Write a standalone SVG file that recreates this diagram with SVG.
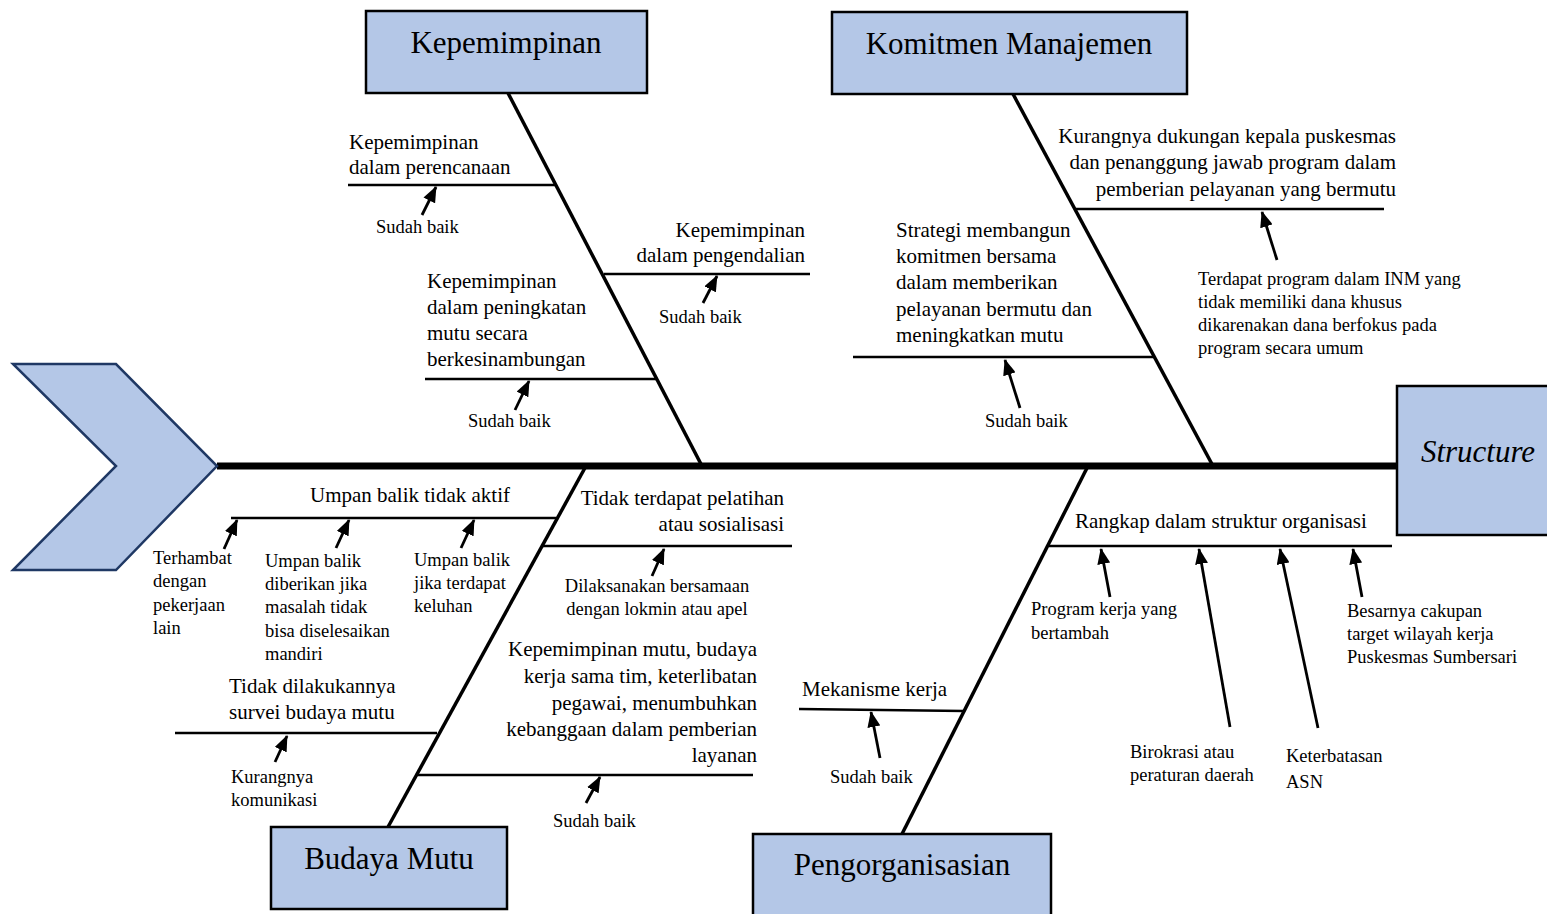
<svg xmlns="http://www.w3.org/2000/svg" width="1547" height="914" viewBox="0 0 1547 914">
<defs>
<style>
.box{fill:#b4c7e7;stroke:#000;stroke-width:2.5}
.title{font-family:"Liberation Serif","Times New Roman",serif;font-size:31px;fill:#000;text-anchor:middle}
.lbl{font-family:"Liberation Serif","Times New Roman",serif;font-size:21px;fill:#000}
.note{font-family:"Liberation Serif","Times New Roman",serif;font-size:18.5px;fill:#000}
.bone{stroke:#000;stroke-width:3.5;fill:none}
.sub{stroke:#000;stroke-width:2.5;fill:none}
.arr{stroke:#000;stroke-width:2.8;fill:none;marker-end:url(#ah)}
.r{text-anchor:end}
.m{text-anchor:middle}
</style>
<marker id="ah" markerWidth="16" markerHeight="13" refX="15" refY="6.5" orient="auto" markerUnits="userSpaceOnUse">
<path d="M0,0 L16,6.5 L0,13 z" fill="#000"/>
</marker>
</defs>
<rect width="1547" height="914" fill="#fff"/>

<g id="connectors">
<line x1="217" y1="466" x2="1397" y2="466" stroke="#000" stroke-width="7"/>
<line class="bone" x1="508" y1="93" x2="702" y2="466"/>
<line class="bone" x1="1013" y1="94" x2="1213" y2="466"/>
<line class="bone" x1="388" y1="827" x2="586" y2="466"/>
<line class="bone" x1="1088" y1="466" x2="902" y2="834"/>
</g>

<g id="head">
<polygon points="13,364 116,364 217,466 116,570 13,570 116,466" fill="#b4c7e7" stroke="#1f3864" stroke-width="2.5"/>
</g>

<g id="structure">
<rect class="box" x="1397" y="386" width="165" height="149"/>
<text x="1478" y="462" class="title" font-style="italic">Structure</text>
</g>

<g id="kepemimpinan">
<rect class="box" x="366" y="11" width="281" height="82"/>
<text x="506" y="53" class="title">Kepemimpinan</text>
</g>

<g id="komitmen">
<rect class="box" x="832" y="12" width="355" height="82"/>
<text x="1009" y="54" class="title">Komitmen Manajemen</text>
</g>

<g id="budaya">
<rect class="box" x="271" y="827" width="236" height="82"/>
<text x="389" y="869" class="title">Budaya Mutu</text>
</g>

<g id="pengorganisasian">
<rect class="box" x="753" y="834" width="298" height="95"/>
<text x="902" y="875" class="title">Pengorganisasian</text>
</g>

<g id="kep-perencanaan">
<line class="sub" x1="348" y1="185" x2="555" y2="185"/>
<text class="lbl" x="349" y="149">Kepemimpinan</text>
<text class="lbl" x="349" y="174">dalam perencanaan</text>
<line class="arr" x1="422" y1="215" x2="436" y2="187"/>
<text class="note" x="376" y="233">Sudah baik</text>
</g>

<g id="kep-pengendalian">
<line class="sub" x1="604" y1="274" x2="810" y2="274"/>
<text class="lbl r" x="805" y="237">Kepemimpinan</text>
<text class="lbl r" x="805" y="262">dalam pengendalian</text>
<line class="arr" x1="703" y1="303" x2="717" y2="276"/>
<text class="note" x="659" y="323">Sudah baik</text>
</g>

<g id="kep-peningkatan">
<line class="sub" x1="425" y1="379" x2="657" y2="379"/>
<text class="lbl" x="427" y="288">Kepemimpinan</text>
<text class="lbl" x="427" y="314">dalam peningkatan</text>
<text class="lbl" x="427" y="340">mutu secara</text>
<text class="lbl" x="427" y="366">berkesinambungan</text>
<line class="arr" x1="515" y1="410" x2="529" y2="381"/>
<text class="note" x="468" y="427">Sudah baik</text>
</g>

<g id="kom-dukungan">
<line class="sub" x1="1076" y1="209" x2="1384" y2="209"/>
<text class="lbl r" x="1396" y="143">Kurangnya dukungan kepala puskesmas</text>
<text class="lbl r" x="1396" y="169">dan penanggung jawab program  dalam</text>
<text class="lbl r" x="1396" y="196">pemberian pelayanan yang bermutu</text>
<line class="arr" x1="1277" y1="260" x2="1262" y2="212"/>
<text class="note" x="1198" y="285">Terdapat program dalam INM yang</text>
<text class="note" x="1198" y="308">tidak memiliki dana khusus</text>
<text class="note" x="1198" y="331">dikarenakan dana berfokus pada</text>
<text class="note" x="1198" y="354">program secara umum</text>
</g>

<g id="kom-strategi">
<line class="sub" x1="853" y1="357" x2="1155" y2="357"/>
<text class="lbl" x="896" y="237">Strategi membangun</text>
<text class="lbl" x="896" y="263">komitmen bersama</text>
<text class="lbl" x="896" y="289">dalam memberikan</text>
<text class="lbl" x="896" y="316">pelayanan bermutu dan</text>
<text class="lbl" x="896" y="342">meningkatkan mutu</text>
<line class="arr" x1="1020" y1="408" x2="1005" y2="360"/>
<text class="note" x="985" y="427">Sudah baik</text>
</g>

<g id="bud-umpan">
<line class="sub" x1="231" y1="518" x2="556" y2="518"/>
<text class="lbl m" x="410" y="502">Umpan balik tidak aktif</text>
<line class="arr" x1="224" y1="549" x2="237" y2="520"/>
<line class="arr" x1="336" y1="548" x2="349" y2="520"/>
<line class="arr" x1="461" y1="548" x2="474" y2="520"/>
<text class="note" x="153" y="564">Terhambat</text>
<text class="note" x="153" y="587">dengan</text>
<text class="note" x="153" y="611">pekerjaan</text>
<text class="note" x="153" y="634">lain</text>
<text class="note" x="265" y="567">Umpan balik</text>
<text class="note" x="265" y="590">diberikan jika</text>
<text class="note" x="265" y="613">masalah tidak</text>
<text class="note" x="265" y="637">bisa diselesaikan</text>
<text class="note" x="265" y="660">mandiri</text>
<text class="note" x="414" y="566">Umpan balik</text>
<text class="note" x="414" y="589">jika terdapat</text>
<text class="note" x="414" y="612">keluhan</text>
</g>

<g id="bud-pelatihan">
<line class="sub" x1="543" y1="546" x2="792" y2="546"/>
<text class="lbl r" x="784" y="505">Tidak terdapat pelatihan</text>
<text class="lbl r" x="784" y="531">atau sosialisasi</text>
<line class="arr" x1="652" y1="576" x2="664" y2="549"/>
<text class="note m" x="657" y="592">Dilaksanakan bersamaan</text>
<text class="note m" x="657" y="615">dengan lokmin atau apel</text>
</g>

<g id="bud-survei">
<line class="sub" x1="175" y1="733" x2="437" y2="733"/>
<text class="lbl" x="229" y="693">Tidak dilakukannya</text>
<text class="lbl" x="229" y="719">survei budaya mutu</text>
<line class="arr" x1="275" y1="762" x2="287" y2="736"/>
<text class="note" x="231" y="783">Kurangnya</text>
<text class="note" x="231" y="806">komunikasi</text>
</g>

<g id="bud-kepemimpinan">
<line class="sub" x1="417" y1="775" x2="753" y2="775"/>
<text class="lbl r" x="757" y="656">Kepemimpinan mutu, budaya</text>
<text class="lbl r" x="757" y="683">kerja sama tim, keterlibatan</text>
<text class="lbl r" x="757" y="710">pegawai, menumbuhkan</text>
<text class="lbl r" x="757" y="736">kebanggaan dalam pemberian</text>
<text class="lbl r" x="757" y="762">layanan</text>
<line class="arr" x1="586" y1="803" x2="600" y2="777"/>
<text class="note" x="553" y="827">Sudah baik</text>
</g>

<g id="org-rangkap">
<line class="sub" x1="1049" y1="546" x2="1392" y2="546"/>
<text class="lbl" x="1075" y="528">Rangkap dalam struktur organisasi</text>
<line class="arr" x1="1110" y1="597" x2="1101" y2="549"/>
<line class="arr" x1="1230" y1="727" x2="1199" y2="549"/>
<line class="arr" x1="1318" y1="728" x2="1280" y2="549"/>
<line class="arr" x1="1362" y1="597" x2="1353" y2="549"/>
<text class="note" x="1031" y="615">Program kerja yang</text>
<text class="note" x="1031" y="639">bertambah</text>
<text class="note" x="1130" y="758">Birokrasi atau</text>
<text class="note" x="1130" y="781">peraturan daerah</text>
<text class="note" x="1286" y="762">Keterbatasan</text>
<text class="note" x="1286" y="788" font-size="20.5px">ASN</text>
<text class="note" x="1347" y="617">Besarnya cakupan</text>
<text class="note" x="1347" y="640">target wilayah kerja</text>
<text class="note" x="1347" y="663">Puskesmas Sumbersari</text>
</g>

<g id="org-mekanisme">
<line class="sub" x1="799" y1="709" x2="964" y2="711"/>
<text class="lbl" x="802" y="696">Mekanisme kerja</text>
<line class="arr" x1="880" y1="758" x2="871" y2="712"/>
<text class="note" x="830" y="783">Sudah baik</text>
</g>
</svg>
